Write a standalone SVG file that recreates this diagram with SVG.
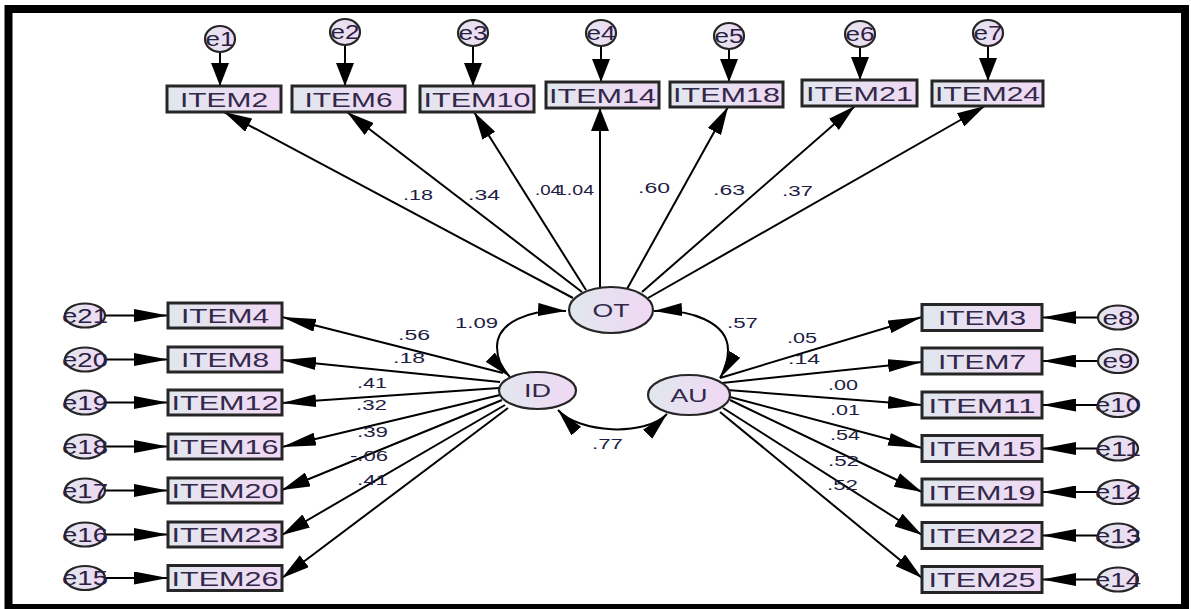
<svg xmlns="http://www.w3.org/2000/svg" width="1191" height="609" viewBox="0 0 1191 609">
<defs>
<linearGradient id="g" x1="0" y1="0" x2="1" y2="0">
<stop offset="0" stop-color="#e1e7ee"/><stop offset="1" stop-color="#f0d8f4"/>
</linearGradient>
<marker id="ah" viewBox="0 0 34 13" refX="34" refY="6.5" markerWidth="34" markerHeight="13" markerUnits="userSpaceOnUse" orient="auto"><path d="M0,0 L34,6.5 L0,13 z" fill="#000"/></marker>
<marker id="ad" viewBox="0 0 28 15" refX="28" refY="7.5" markerWidth="28" markerHeight="15" markerUnits="userSpaceOnUse" orient="auto"><path d="M0,0 L28,7.5 L0,15 z" fill="#000"/></marker>
<marker id="av" viewBox="0 0 23 18" refX="23" refY="9" markerWidth="23" markerHeight="18" markerUnits="userSpaceOnUse" orient="auto"><path d="M0,0 L23,9 L0,18 z" fill="#000"/></marker>
<marker id="ac" viewBox="0 0 28 13" refX="28" refY="6.5" markerWidth="28" markerHeight="13" markerUnits="userSpaceOnUse" orient="auto-start-reverse"><path d="M0,0 L28,6.5 L0,13 z" fill="#000"/></marker>
</defs>
<style>
.box{fill:url(#g);stroke:#262626;stroke-width:3}
.lat{fill:url(#g);stroke:#262626;stroke-width:2.2}
.err{fill:url(#g);stroke:#262626;stroke-width:2.2}
.it{font-family:"Liberation Sans",Arial,sans-serif;font-size:21px;fill:#33284a;text-anchor:middle}
.lt{font-family:"Liberation Sans",Arial,sans-serif;font-size:18px;fill:#33284a;text-anchor:middle}
.et{font-family:"Liberation Sans",Arial,sans-serif;font-size:20px;fill:#2a2040;text-anchor:middle}
.nl{font-family:"Liberation Sans",Arial,sans-serif;font-size:14px;fill:#1e1e44}
.c{fill:none;stroke:#000;stroke-width:2}
.h{marker-end:url(#ah)}
.d{marker-end:url(#ad)}
.v{marker-end:url(#av)}
.arc{fill:none;stroke:#000;stroke-width:2;marker-start:url(#ac);marker-end:url(#ac)}
</style>
<rect x="0" y="0" width="1191" height="609" fill="#fff"/>
<rect x="8.5" y="9" width="1176.5" height="599" fill="none" stroke="#000" stroke-width="8"/>

<g id="connectors">
<line class="c v" x1="220" y1="52" x2="220" y2="86"/>
<line class="c v" x1="345" y1="45" x2="345" y2="86"/>
<line class="c v" x1="473" y1="46" x2="473" y2="86"/>
<line class="c v" x1="601" y1="46" x2="601" y2="82"/>
<line class="c v" x1="729" y1="49" x2="729" y2="82"/>
<line class="c v" x1="860" y1="47" x2="860" y2="80"/>
<line class="c v" x1="988" y1="46" x2="988" y2="81"/>
<line class="c d" x1="573" y1="298" x2="224" y2="112"/>
<line class="c d" x1="582" y1="292" x2="347" y2="112"/>
<line class="c d" x1="586" y1="290" x2="474" y2="112"/>
<line class="c v" x1="600" y1="288" x2="600" y2="108"/>
<line class="c d" x1="627" y1="289" x2="728" y2="107"/>
<line class="c d" x1="642" y1="292" x2="855" y2="106"/>
<line class="c d" x1="648" y1="298" x2="985" y2="106"/>
<line class="c h" x1="503" y1="373" x2="282" y2="317"/>
<line class="c h" x1="500" y1="382" x2="282" y2="360"/>
<line class="c h" x1="499" y1="388" x2="282" y2="403"/>
<line class="c h" x1="500" y1="395" x2="282" y2="447"/>
<line class="c d" x1="502" y1="400" x2="282" y2="490"/>
<line class="c d" x1="505" y1="405" x2="282" y2="535"/>
<line class="c d" x1="508" y1="408" x2="282" y2="578"/>
<line class="c h" x1="720" y1="378" x2="922" y2="317"/>
<line class="c h" x1="722" y1="383" x2="922" y2="362"/>
<line class="c h" x1="727" y1="390" x2="922" y2="405"/>
<line class="c h" x1="730" y1="397" x2="922" y2="448"/>
<line class="c d" x1="730" y1="400" x2="922" y2="492"/>
<line class="c d" x1="723" y1="408" x2="922" y2="535"/>
<line class="c d" x1="720" y1="412" x2="922" y2="578"/>
<line class="c h" x1="105" y1="315.5" x2="168" y2="315.5"/>
<line class="c h" x1="105" y1="359.5" x2="168" y2="359.5"/>
<line class="c h" x1="105" y1="402.5" x2="168" y2="402.5"/>
<line class="c h" x1="105" y1="446.5" x2="168" y2="446.5"/>
<line class="c h" x1="105" y1="490.5" x2="168" y2="490.5"/>
<line class="c h" x1="105" y1="534.5" x2="168" y2="534.5"/>
<line class="c h" x1="105" y1="578" x2="168" y2="578"/>
<line class="c h" x1="1098" y1="317.5" x2="1042" y2="317.5"/>
<line class="c h" x1="1098" y1="361" x2="1042" y2="361"/>
<line class="c h" x1="1098" y1="405" x2="1042" y2="405"/>
<line class="c h" x1="1098" y1="448.5" x2="1042" y2="448.5"/>
<line class="c h" x1="1098" y1="492" x2="1042" y2="492"/>
<line class="c h" x1="1098" y1="535.5" x2="1042" y2="535.5"/>
<line class="c h" x1="1098" y1="579.5" x2="1042" y2="579.5"/>
<path class="arc" d="M566,311 C530,309 497,322 497,347 C497,360 502,369 510,377"/>
<path class="arc" d="M654,311 C690,309 728,322 728,350 C728,362 725,370 720,378"/>
<path class="arc" d="M558,410 C578,433 645,437 667,414"/>
</g>

<g id="labels">
<text class="nl" x="403" y="200" textLength="30" lengthAdjust="spacingAndGlyphs">.18</text>
<text class="nl" x="468" y="200" textLength="32" lengthAdjust="spacingAndGlyphs">.34</text>
<text class="nl" x="535" y="195" textLength="26" lengthAdjust="spacingAndGlyphs">.04</text>
<text class="nl" x="556" y="195" textLength="38" lengthAdjust="spacingAndGlyphs">1.04</text>
<text class="nl" x="638" y="193" textLength="32" lengthAdjust="spacingAndGlyphs">.60</text>
<text class="nl" x="713" y="195" textLength="32" lengthAdjust="spacingAndGlyphs">.63</text>
<text class="nl" x="782" y="196" textLength="31" lengthAdjust="spacingAndGlyphs">.37</text>
<text class="nl" x="455" y="328" textLength="43" lengthAdjust="spacingAndGlyphs">1.09</text>
<text class="nl" x="727" y="328" textLength="31" lengthAdjust="spacingAndGlyphs">.57</text>
<text class="nl" x="592" y="449" textLength="31" lengthAdjust="spacingAndGlyphs">.77</text>
<text class="nl" x="398" y="340" textLength="32" lengthAdjust="spacingAndGlyphs">.56</text>
<text class="nl" x="393" y="363" textLength="32" lengthAdjust="spacingAndGlyphs">.18</text>
<text class="nl" x="357" y="388" textLength="30" lengthAdjust="spacingAndGlyphs">.41</text>
<text class="nl" x="356" y="410" textLength="31" lengthAdjust="spacingAndGlyphs">.32</text>
<text class="nl" x="357" y="437" textLength="31" lengthAdjust="spacingAndGlyphs">.39</text>
<text class="nl" x="350" y="461" textLength="38" lengthAdjust="spacingAndGlyphs">-.06</text>
<text class="nl" x="357" y="485" textLength="31" lengthAdjust="spacingAndGlyphs">.41</text>
<text class="nl" x="787" y="343" textLength="30" lengthAdjust="spacingAndGlyphs">.05</text>
<text class="nl" x="788" y="364" textLength="32" lengthAdjust="spacingAndGlyphs">.14</text>
<text class="nl" x="828" y="390" textLength="30" lengthAdjust="spacingAndGlyphs">.00</text>
<text class="nl" x="830" y="415" textLength="30" lengthAdjust="spacingAndGlyphs">.01</text>
<text class="nl" x="830" y="440" textLength="30" lengthAdjust="spacingAndGlyphs">.54</text>
<text class="nl" x="828" y="466" textLength="31" lengthAdjust="spacingAndGlyphs">.52</text>
<text class="nl" x="827" y="490" textLength="31" lengthAdjust="spacingAndGlyphs">.52</text>
</g>

<g id="OT"><ellipse class="lat" cx="611" cy="310" rx="42" ry="23"/><text class="lt" x="611" y="316.5" textLength="37" lengthAdjust="spacingAndGlyphs">OT</text></g>
<g id="ID"><ellipse class="lat" cx="537.5" cy="390.5" rx="38.5" ry="18.5"/><text class="lt" x="537.5" y="397" textLength="27" lengthAdjust="spacingAndGlyphs">ID</text></g>
<g id="AU"><ellipse class="lat" cx="689" cy="395" rx="41" ry="20"/><text class="lt" x="689" y="401.5" textLength="37" lengthAdjust="spacingAndGlyphs">AU</text></g>

<g id="ITEM2"><rect class="box" x="167" y="86" width="114" height="26"/><text class="it" x="224" y="106.5" textLength="88" lengthAdjust="spacingAndGlyphs">ITEM2</text></g>
<g id="ITEM6"><rect class="box" x="292" y="86" width="113" height="26"/><text class="it" x="348.5" y="106.5" textLength="88" lengthAdjust="spacingAndGlyphs">ITEM6</text></g>
<g id="ITEM10"><rect class="box" x="420" y="86" width="114" height="26"/><text class="it" x="477" y="106.5" textLength="107" lengthAdjust="spacingAndGlyphs">ITEM10</text></g>
<g id="ITEM14"><rect class="box" x="546" y="82" width="113" height="26"/><text class="it" x="602.5" y="102.5" textLength="107" lengthAdjust="spacingAndGlyphs">ITEM14</text></g>
<g id="ITEM18"><rect class="box" x="670" y="82" width="113" height="25"/><text class="it" x="726.5" y="102" textLength="107" lengthAdjust="spacingAndGlyphs">ITEM18</text></g>
<g id="ITEM21"><rect class="box" x="802" y="80" width="115" height="26"/><text class="it" x="859.5" y="100.5" textLength="107" lengthAdjust="spacingAndGlyphs">ITEM21</text></g>
<g id="ITEM24"><rect class="box" x="932" y="81" width="111" height="25"/><text class="it" x="987.5" y="101" textLength="105" lengthAdjust="spacingAndGlyphs">ITEM24</text></g>

<g id="e1"><ellipse class="err" cx="220" cy="39" rx="15" ry="13"/><text class="et" x="220" y="46" textLength="29" lengthAdjust="spacingAndGlyphs">e1</text></g>
<g id="e2"><ellipse class="err" cx="345" cy="32" rx="15" ry="13"/><text class="et" x="345" y="39" textLength="29" lengthAdjust="spacingAndGlyphs">e2</text></g>
<g id="e3"><ellipse class="err" cx="473" cy="33" rx="15" ry="13"/><text class="et" x="473" y="40" textLength="29" lengthAdjust="spacingAndGlyphs">e3</text></g>
<g id="e4"><ellipse class="err" cx="601" cy="33" rx="15" ry="13"/><text class="et" x="601" y="40" textLength="29" lengthAdjust="spacingAndGlyphs">e4</text></g>
<g id="e5"><ellipse class="err" cx="729" cy="36" rx="15" ry="13"/><text class="et" x="729" y="43" textLength="29" lengthAdjust="spacingAndGlyphs">e5</text></g>
<g id="e6"><ellipse class="err" cx="860" cy="34" rx="15" ry="13"/><text class="et" x="860" y="41" textLength="29" lengthAdjust="spacingAndGlyphs">e6</text></g>
<g id="e7"><ellipse class="err" cx="988" cy="33" rx="15" ry="13"/><text class="et" x="988" y="40" textLength="29" lengthAdjust="spacingAndGlyphs">e7</text></g>

<g id="ITEM4"><rect class="box" x="168" y="303" width="114" height="25"/><text class="it" x="225" y="323" textLength="88" lengthAdjust="spacingAndGlyphs">ITEM4</text></g>
<g id="ITEM8"><rect class="box" x="168" y="347" width="114" height="25"/><text class="it" x="225" y="367" textLength="88" lengthAdjust="spacingAndGlyphs">ITEM8</text></g>
<g id="ITEM12"><rect class="box" x="168" y="390" width="114" height="25"/><text class="it" x="225" y="410" textLength="107" lengthAdjust="spacingAndGlyphs">ITEM12</text></g>
<g id="ITEM16"><rect class="box" x="168" y="434" width="114" height="25"/><text class="it" x="225" y="454" textLength="107" lengthAdjust="spacingAndGlyphs">ITEM16</text></g>
<g id="ITEM20"><rect class="box" x="168" y="478" width="114" height="25"/><text class="it" x="225" y="498" textLength="107" lengthAdjust="spacingAndGlyphs">ITEM20</text></g>
<g id="ITEM23"><rect class="box" x="168" y="522" width="114" height="25"/><text class="it" x="225" y="542" textLength="107" lengthAdjust="spacingAndGlyphs">ITEM23</text></g>
<g id="ITEM26"><rect class="box" x="168" y="565.5" width="114" height="25"/><text class="it" x="225" y="585.5" textLength="107" lengthAdjust="spacingAndGlyphs">ITEM26</text></g>

<g id="e21"><ellipse class="err" cx="85" cy="315.5" rx="20" ry="12"/><text class="et" x="85" y="322.5" textLength="46" lengthAdjust="spacingAndGlyphs">e21</text></g>
<g id="e20"><ellipse class="err" cx="85" cy="359.5" rx="20" ry="12"/><text class="et" x="85" y="366.5" textLength="46" lengthAdjust="spacingAndGlyphs">e20</text></g>
<g id="e19"><ellipse class="err" cx="85" cy="402.5" rx="20" ry="12"/><text class="et" x="85" y="409.5" textLength="46" lengthAdjust="spacingAndGlyphs">e19</text></g>
<g id="e18"><ellipse class="err" cx="85" cy="446.5" rx="20" ry="12"/><text class="et" x="85" y="453.5" textLength="46" lengthAdjust="spacingAndGlyphs">e18</text></g>
<g id="e17"><ellipse class="err" cx="85" cy="490.5" rx="20" ry="12"/><text class="et" x="85" y="497.5" textLength="46" lengthAdjust="spacingAndGlyphs">e17</text></g>
<g id="e16"><ellipse class="err" cx="85" cy="534.5" rx="20" ry="12"/><text class="et" x="85" y="541.5" textLength="46" lengthAdjust="spacingAndGlyphs">e16</text></g>
<g id="e15"><ellipse class="err" cx="85" cy="578" rx="20" ry="12"/><text class="et" x="85" y="585" textLength="46" lengthAdjust="spacingAndGlyphs">e15</text></g>

<g id="ITEM3"><rect class="box" x="922" y="304.5" width="120" height="26"/><text class="it" x="982" y="325" textLength="88" lengthAdjust="spacingAndGlyphs">ITEM3</text></g>
<g id="ITEM7"><rect class="box" x="922" y="348" width="120" height="26"/><text class="it" x="982" y="368.5" textLength="88" lengthAdjust="spacingAndGlyphs">ITEM7</text></g>
<g id="ITEM11"><rect class="box" x="922" y="392" width="120" height="26"/><text class="it" x="982" y="412.5" textLength="107" lengthAdjust="spacingAndGlyphs">ITEM11</text></g>
<g id="ITEM15"><rect class="box" x="922" y="435.5" width="120" height="26"/><text class="it" x="982" y="456" textLength="107" lengthAdjust="spacingAndGlyphs">ITEM15</text></g>
<g id="ITEM19"><rect class="box" x="922" y="479" width="120" height="26"/><text class="it" x="982" y="499.5" textLength="107" lengthAdjust="spacingAndGlyphs">ITEM19</text></g>
<g id="ITEM22"><rect class="box" x="922" y="522.5" width="120" height="26"/><text class="it" x="982" y="543" textLength="107" lengthAdjust="spacingAndGlyphs">ITEM22</text></g>
<g id="ITEM25"><rect class="box" x="922" y="566.5" width="120" height="26"/><text class="it" x="982" y="587" textLength="107" lengthAdjust="spacingAndGlyphs">ITEM25</text></g>

<g id="e8"><ellipse class="err" cx="1118" cy="317.5" rx="20" ry="12"/><text class="et" x="1118" y="324.5" textLength="31" lengthAdjust="spacingAndGlyphs">e8</text></g>
<g id="e9"><ellipse class="err" cx="1118" cy="361" rx="20" ry="12"/><text class="et" x="1118" y="368" textLength="31" lengthAdjust="spacingAndGlyphs">e9</text></g>
<g id="e10"><ellipse class="err" cx="1118" cy="405" rx="20" ry="12"/><text class="et" x="1118" y="412" textLength="46" lengthAdjust="spacingAndGlyphs">e10</text></g>
<g id="e11"><ellipse class="err" cx="1118" cy="448.5" rx="20" ry="12"/><text class="et" x="1118" y="455.5" textLength="46" lengthAdjust="spacingAndGlyphs">e11</text></g>
<g id="e12"><ellipse class="err" cx="1118" cy="492" rx="20" ry="12"/><text class="et" x="1118" y="499" textLength="46" lengthAdjust="spacingAndGlyphs">e12</text></g>
<g id="e13"><ellipse class="err" cx="1118" cy="535.5" rx="20" ry="12"/><text class="et" x="1118" y="542.5" textLength="46" lengthAdjust="spacingAndGlyphs">e13</text></g>
<g id="e14"><ellipse class="err" cx="1118" cy="579.5" rx="20" ry="12"/><text class="et" x="1118" y="586.5" textLength="46" lengthAdjust="spacingAndGlyphs">e14</text></g>
</svg>
